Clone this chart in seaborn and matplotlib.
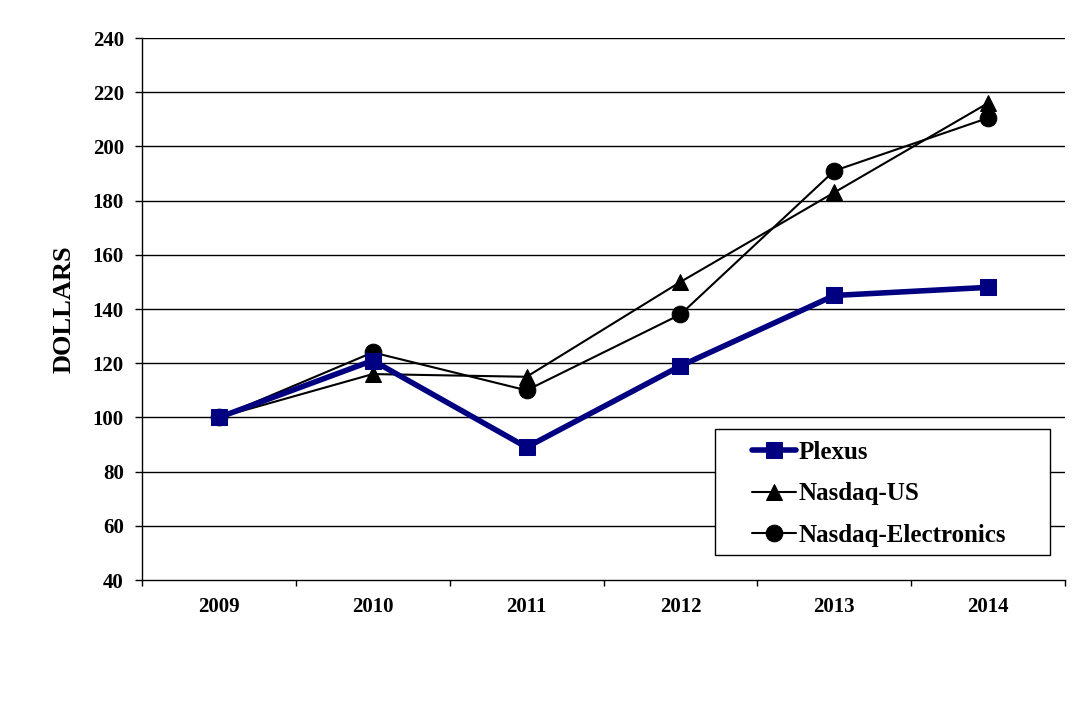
import numpy as np
import pandas as pd
import matplotlib
matplotlib.use('Agg')
import matplotlib.pyplot as plt
from matplotlib.patches import Rectangle
import seaborn as sns

sns.set_style('white')
plt.rcParams['font.family'] = ['Liberation Serif', 'DejaVu Serif']
plt.rcParams['font.weight'] = 'bold'
plt.rcParams['text.color'] = 'black'
plt.rcParams['axes.labelcolor'] = 'black'
plt.rcParams['xtick.color'] = 'black'
plt.rcParams['ytick.color'] = 'black'

years = ['2009', '2010', '2011', '2012', '2013', '2014']
plexus = [100, 121, 89, 119, 145, 148]
nasdaq_us = [100, 116, 115, 150, 183, 216]
nasdaq_elec = [100, 124, 110, 138, 191, 210.5]

df = pd.DataFrame({'year': years, 'Plexus': plexus,
                   'Nasdaq-US': nasdaq_us, 'Nasdaq-Electronics': nasdaq_elec})

fig = plt.figure(figsize=(10.84, 7.17), dpi=100)
ax = fig.add_axes([0.131, 0.191, 0.8515, 0.756])

# grid lines first so they sit under the data
for v in range(60, 241, 20):
    ax.axhline(v, color='black', lw=1.0, zorder=0)

sns.lineplot(data=df, x='year', y='Nasdaq-US', ax=ax, color='black', lw=1.5,
             marker='^', markersize=12, markeredgecolor='black', label='Nasdaq-US', sort=False)
sns.lineplot(data=df, x='year', y='Nasdaq-Electronics', ax=ax, color='black', lw=1.5,
             marker='o', markersize=12, markeredgecolor='black', label='Nasdaq-Electronics', sort=False)
sns.lineplot(data=df, x='year', y='Plexus', ax=ax, color='#000080', lw=4,
             marker='s', markersize=11, markeredgecolor='#000080', label='Plexus', sort=False)

ax.set_xlim(-0.5, 5.5)
ax.set_ylim(40, 240)
ax.set_yticks(range(40, 241, 20))
ax.set_xlabel('')
ax.set_ylabel('DOLLARS', fontsize=19, fontweight='bold', labelpad=12)

for s in ['top', 'right']:
    ax.spines[s].set_visible(False)
for s in ['left', 'bottom']:
    ax.spines[s].set_color('black')
    ax.spines[s].set_linewidth(1.0)

ax.tick_params(axis='y', which='major', left=True, direction='out', length=5, width=1,
               labelsize=15, pad=8)
ax.set_xticks(range(6))
ax.set_xticks(np.arange(-0.5, 6, 1), minor=True)
ax.tick_params(axis='x', which='major', bottom=False, labelsize=15, pad=9)
ax.tick_params(axis='x', which='minor', bottom=True, direction='out', length=4.5, width=1)
for lab in ax.get_xticklabels() + ax.get_yticklabels():
    lab.set_fontweight('bold')

# legend box drawn separately so the entries can sit inset like the original
ax.add_patch(Rectangle((0.621, 0.046), 0.363, 0.233, transform=ax.transAxes,
                       facecolor='white', edgecolor='black', lw=1.0, zorder=4))

handles, labels = ax.get_legend_handles_labels()
order = [labels.index('Plexus'), labels.index('Nasdaq-US'), labels.index('Nasdaq-Electronics')]
leg = ax.legend([handles[i] for i in order], [labels[i] for i in order],
                loc='upper left', bbox_to_anchor=(0.661, 0.257),
                fontsize=18, frameon=False,
                handlelength=1.75, handletextpad=0.1, labelspacing=0.75, borderpad=0,
                borderaxespad=0)
leg.set_zorder(5)
for t in leg.get_texts():
    t.set_fontweight('bold')

fig.savefig('out.png', dpi=100)
